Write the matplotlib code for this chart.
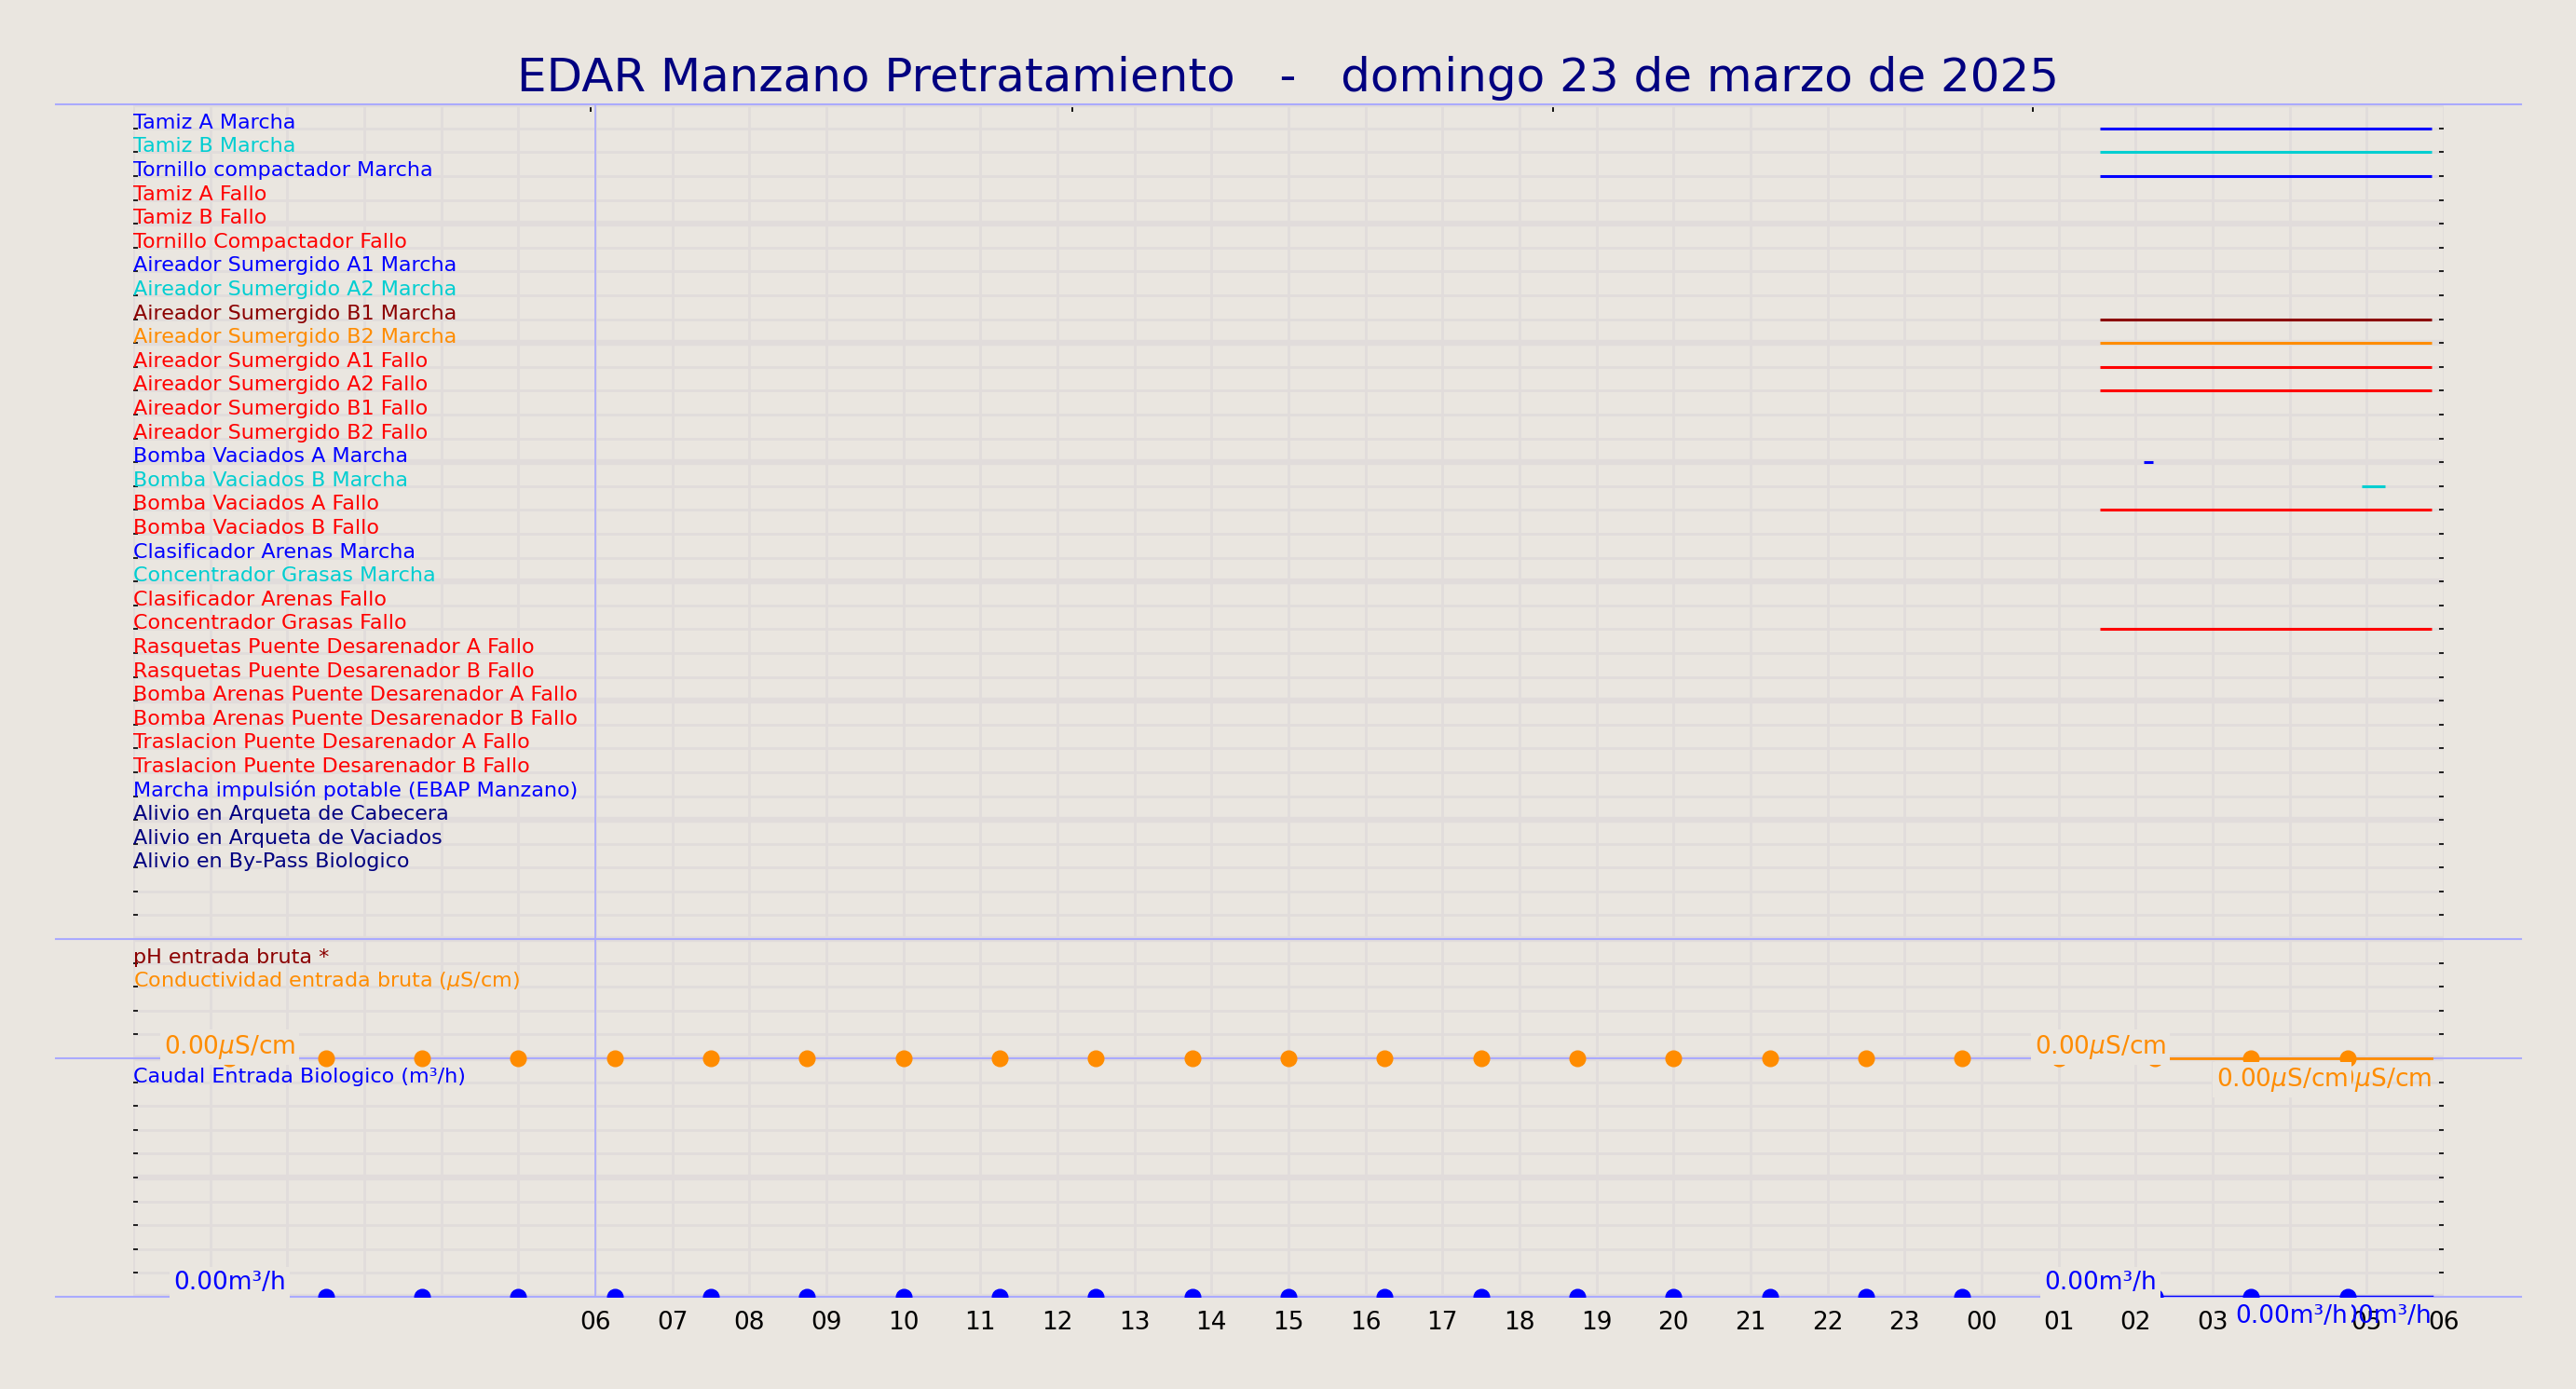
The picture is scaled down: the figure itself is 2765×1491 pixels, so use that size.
#!/usr/bin/env python
"""
Daily signal chart for the EDAR Manzano pretreatment stage.
"""

import matplotlib
matplotlib.use("Agg")
import matplotlib.pyplot as plt

title = "EDAR Manzano Pretratamiento   -   domingo 23 de marzo de 2025"

# Digital signals, one per row (row 1 at the top)
signal_labels = [
    "Tamiz A Marcha", "Tamiz B Marcha", "Tornillo compactador Marcha",
    "Tamiz A Fallo", "Tamiz B Fallo", "Tornillo Compactador Fallo",
    "Aireador Sumergido A1 Marcha", "Aireador Sumergido A2 Marcha",
    "Aireador Sumergido B1 Marcha", "Aireador Sumergido B2 Marcha",
    "Aireador Sumergido A1 Fallo", "Aireador Sumergido A2 Fallo",
    "Aireador Sumergido B1 Fallo", "Aireador Sumergido B2 Fallo",
    "Bomba Vaciados A Marcha", "Bomba Vaciados B Marcha",
    "Bomba Vaciados A Fallo", "Bomba Vaciados B Fallo",
    "Clasificador Arenas Marcha", "Concentrador Grasas Marcha",
    "Clasificador Arenas Fallo", "Concentrador Grasas Fallo",
    "Rasquetas Puente Desarenador A Fallo",
    "Rasquetas Puente Desarenador B Fallo",
    "Bomba Arenas Puente Desarenador A Fallo",
    "Bomba Arenas Puente Desarenador B Fallo",
    "Traslacion Puente Desarenador A Fallo",
    "Traslacion Puente Desarenador B Fallo",
    "Marcha impulsión potable (EBAP Manzano)",
    "Alivio en Arqueta de Cabecera", "Alivio en Arqueta de Vaciados",
    "Alivio en By-Pass Biologico",
]
signal_colors = [
    "blue", "darkturquoise", "blue", "red", "red", "red",
    "blue", "darkturquoise", "darkred", "darkorange",
    "red", "red", "red", "red",
    "blue", "darkturquoise", "red", "red",
    "blue", "darkturquoise", "red", "red",
    "red", "red", "red", "red", "red", "red",
    "blue", "navy", "navy", "navy",
]

# Periods where a signal is active (row, start hour, end hour), hours from 00:00 of the 23rd
on_rows = [1, 2, 3, 9, 10, 11, 12, 15, 16, 17, 22]
on_start = [25.54, 25.54, 25.54, 25.54, 25.54, 25.54, 25.54, 26.10, 28.94, 25.54, 25.54]
on_end = [29.84, 29.84, 29.84, 29.84, 29.84, 29.84, 29.84, 26.22, 29.24, 29.84, 29.84]

# Analog channels
analog_labels = ["pH entrada bruta *", "Conductividad entrada bruta ($\\mu$S/cm)",
                 "Caudal Entrada Biologico (m³/h)"]
analog_colors = ["darkred", "darkorange", "blue"]
analog_rows = [36, 37, 41]

sample_hours = [1.25, 2.5, 3.75, 5.0, 6.25, 7.5, 8.75, 10.0, 11.25, 12.5, 13.75,
                15.0, 16.25, 17.5, 18.75, 20.0, 21.25, 22.5, 23.75, 25.0, 26.25,
                27.5, 28.75]
cond_samples = [0.0] * 23
flow_samples = [0.0] * 23
trend_hours = [25.54, 29.84]
cond_trend = [0.0, 0.0]
flow_trend = [0.0, 0.0]

cond_text = "0.00$\\mu$S/cm"
flow_text = "0.00m³/h"

hour_ticks = list(range(6, 31))
hour_labels = ["%02d" % (h % 24) for h in hour_ticks]
top_ticks = [5.94, 12.19, 18.43, 24.67]

bg = "#EAE6E0"
gridc = "#E1DCDB"
sepc = "#AAAAFF"


def to_row(values, base, scale=1.0):
    """Map channel values onto the row axis (row grows downwards)."""
    return [base - v * scale for v in values]


def plot_chart():
    fig = plt.figure(figsize=(27.65, 14.91), dpi=100, facecolor=bg)
    ax = fig.add_axes([143 / 2765, 1 - 1392 / 1491, 2480 / 2765, 1279.7 / 1491])
    ax.set_facecolor(bg)
    for s in ax.spines.values():
        s.set_visible(False)
    ax.set_xlim(0, 30)
    ax.set_ylim(50, 0)

    # Grid: every hour / every row, thicker every 5 rows
    ax.set_xticks(hour_ticks)
    ax.set_xticklabels(hour_labels)
    ax.set_xticks(range(0, 31), minor=True)
    ax.set_yticks(range(0, 51, 5))
    ax.set_yticks(range(0, 51), minor=True)
    ax.set_axisbelow(True)
    ax.grid(which="minor", color=gridc, lw=2)
    ax.grid(which="major", axis="x", color=gridc, lw=2)
    ax.grid(which="major", axis="y", color=gridc, lw=4.5)
    ax.tick_params(axis="x", which="both", length=0, labelsize=19, pad=11)
    ax.tick_params(axis="y", which="both", left=True, right=True, direction="in",
                   length=3.5, width=1.2, labelleft=False)

    top = ax.secondary_xaxis("top")
    top.set_xticks(top_ticks)
    top.tick_params(direction="in", length=6, width=1.3, labeltop=False)
    top.spines["top"].set_visible(False)

    # Section separators
    for r in [0, 35, 40, 50]:
        ax.plot([-1, 31], [r, r], color=sepc, lw=1.5, clip_on=False, zorder=2.6)
    ax.axvline(6, color=sepc, lw=1.2, zorder=2.6)

    # Digital rows
    for i, (lab, c) in enumerate(zip(signal_labels, signal_colors)):
        ax.text(0, i + 1, lab, color=c, fontsize=16, va="baseline", ha="left")
    for r, s, e in zip(on_rows, on_start, on_end):
        ax.hlines(r, s, e, color=signal_colors[r - 1], lw=2.2, zorder=3)

    for lab, c, r in zip(analog_labels, analog_colors, analog_rows):
        ax.text(0, r, lab, color=c, fontsize=16, va="baseline", ha="left")

    # Conductivity and flow
    ax.plot(trend_hours, to_row(cond_trend, 40), color="darkorange", lw=2, zorder=3)
    ax.plot(trend_hours, to_row(flow_trend, 50), color="blue", lw=2.5, zorder=3)
    ax.plot(sample_hours, to_row(cond_samples, 40), "o", ms=12,
            color="darkorange", zorder=3.5)
    ax.plot(sample_hours, to_row(flow_samples, 50), "o", ms=12,
            color="blue", zorder=3.5)

    box = dict(boxstyle="square,pad=0.15", fc=bg, ec="none")
    for txt, c, base, dy in [(cond_text, "darkorange", 40, -1.8),
                             (flow_text, "blue", 50, 1.5)]:
        # values above the line
        for xh in [sample_hours[0], trend_hours[0]]:
            ax.annotate(txt, (xh, base), xytext=(0, dy), textcoords="offset points",
                        ha="center", va="bottom", fontsize=19, color=c,
                        bbox=box, zorder=4, annotation_clip=False)
        # values below the line
        ax.annotate(txt, (trend_hours[1], base), xytext=(0, -6),
                    textcoords="offset points", ha="right", va="top",
                    fontsize=19, color=c, zorder=4, annotation_clip=False)
        ax.annotate(txt, (sample_hours[-1], base), xytext=(0, -6),
                    textcoords="offset points", ha="right", va="top",
                    fontsize=19, color=c, bbox=box, zorder=4.1,
                    annotation_clip=False)

    fig.text(0.5, 1 - 98 / 1491, title, ha="center", va="baseline",
             fontsize=36, color="navy")
    return fig


if __name__ == "__main__":
    fig = plot_chart()
    fig.savefig("out.png", dpi=100, facecolor=bg)
